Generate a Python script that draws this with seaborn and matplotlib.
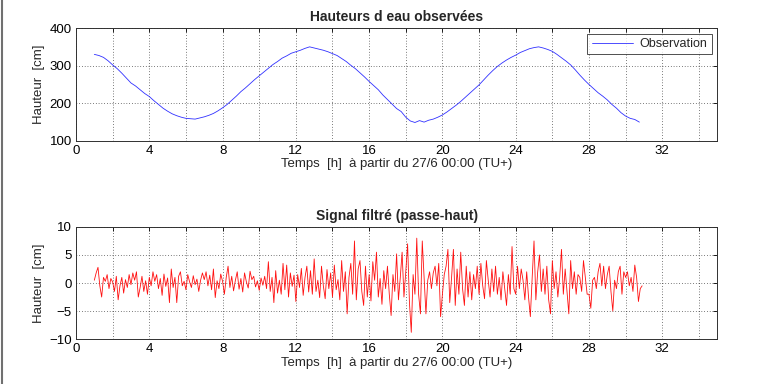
import numpy as np
import pandas as pd
import matplotlib
matplotlib.use("Agg")
import matplotlib.pyplot as plt
from matplotlib.lines import Line2D
import seaborn as sns

# ---------------- data ----------------
# Observed water height (cm), every 0.25 h from t = 1.00 h
obs_start = 1.0
obs_step = 0.25
obs_values = [
    330, 327, 322, 313, 302, 292, 280, 267, 254, 246, 236, 226,
    218, 207, 197, 187, 179, 172, 167, 163, 160, 159, 158, 161,
    164, 168, 173, 180, 188, 197, 208, 219, 231, 241, 252, 263,
    273, 283, 293, 303, 311, 320, 326, 333, 337, 341, 346, 350,
    347, 344, 341, 337, 332, 327, 319, 311, 301, 292, 281, 270,
    258, 247, 236, 222, 210, 198, 186, 178, 163, 153, 149, 154,
    150, 155, 158, 163, 169, 177, 186, 195, 205, 216, 227, 238,
    249, 262, 275, 287, 298, 307, 315, 322, 328, 335, 340, 345,
    348, 350, 347, 343, 338, 330, 321, 312, 302, 289, 275, 262,
    250, 239, 228, 219, 209, 197, 187, 175, 166, 160, 157, 150,
]

# High-pass filtered signal (cm), every 0.1 h from t = 1.0 h
hp_start = 1.0
hp_step = 0.1
hp_values = [
    0.5, 1.8, 2.8, -0.5, -2.5, 1.0, 0.3, 1.5, -1.0, 0.8,      # 1
    0.2, -1.5, 1.2, -3.0, -0.5, 1.0, -1.8, 0.6, -0.8, 1.5,    # 2
    -0.3, 1.8, 0.5, 2.0, -2.5, -0.8, 1.2, -1.5, 0.4, -2.0,    # 3
    1.0, -0.5, 2.0, 0.3, 1.5, -1.0, 0.8, -2.2, 1.6, -0.6,     # 4
    0.9, -3.5, 2.5, -0.8, 1.0, -3.5, 1.2, 2.0, -0.5, 0.3,     # 5
    -1.2, 1.5, 0.2, -0.8, 1.3, -0.3, 0.7, -1.5, 0.5, 1.8,     # 6
    0.6, 2.0, -0.5, 1.4, -1.2, 2.5, -2.6, 0.4, -1.0, 1.6,     # 7
    0.3, -2.0, 1.0, 3.0, -0.8, 1.2, -1.4, 0.5, 2.0, -1.1,     # 8
    0.8, -1.6, 1.8, 0.2, -0.9, 2.1, 0.6, 1.2, -0.7, 0.4,      # 9
    -1.3, 0.9, -0.4, 1.2, -1.0, 3.8, -1.5, 1.0, -3.5, 2.2,    # 10
    -1.8, 0.5, -2.0, 3.5, -1.2, 3.2, -2.5, 1.8, -0.6, 1.4,    # 11
    -3.3, 1.5, -0.8, 2.6, -2.2, 1.0, 3.0, -1.6, 2.2, -2.0,    # 12
    4.3, -1.5, 0.5, -2.6, 3.0, -0.5, -2.8, 2.4, -1.0, 1.8,    # 13
    -2.5, 3.2, -1.2, 0.6, -3.0, 4.0, -1.5, 2.0, -5.5, 1.0,    # 14
    3.5, -2.0, 7.5, -3.0, 2.5, 4.0, -1.5, -4.0, 3.0, -2.5,    # 15
    1.5, -3.2, 3.8, 0.5, 5.5, -2.5, 0.8, -3.8, 2.2, -1.0,     # 16
    3.0, -2.0, -5.8, 1.5, -1.5, 5.2, -3.0, 1.0, 5.5, -2.5,    # 17
    2.0, 7.0, -3.5, -8.8, 1.5, -2.0, 8.0, -2.0, -5.5, 7.5,    # 18
    1.0, -5.5, 0.5, 2.0, -1.0, 1.8, 3.0, -0.5, 3.5, -6.0,     # 19
    -2.0, 1.5, 3.0, 6.0, -3.5, 1.0, 6.0, -4.0, 2.5, -2.0,     # 20
    5.5, -1.0, -4.0, 3.0, -2.5, 2.0, -3.0, 1.5, -1.0, 3.0,    # 21
    -2.0, 3.5, -0.5, -2.8, 4.0, 0.5, -2.5, 2.5, -1.5, 3.0,    # 22
    -2.0, 1.0, -3.0, 2.0, -1.0, -4.0, 1.5, -2.0, 6.5, -1.0,   # 23
    -2.0, 3.0, -1.0, 2.5, 0.5, -3.0, 2.0, -2.5, -6.0, 1.0,    # 24
    7.5, -3.0, 2.0, 5.0, -1.5, 2.5, -2.0, 3.0, -3.0, -5.5,    # 25
    4.0, -1.0, 2.0, -2.5, 1.0, 6.0, -2.0, 2.5, -1.5, -5.5,    # 26
    4.0, -1.0, 2.0, -2.0, 1.5, 1.0, -1.5, 4.0, 1.0, -2.0,     # 27
    -2.0, -4.5, 0.5, 1.0, -1.0, 2.0, 3.5, -0.5, 3.0, -1.0,    # 28
    1.5, 3.0, -1.5, -5.0, 0.5, -1.0, 2.0, 3.0, -2.0, 2.0,     # 29
    1.0, 2.0, -0.5, 1.0, -1.5, 3.2, 1.0, -3.3, -1.0, -0.5,    # 30
]

x_ticks = [0, 2, 4, 6, 8, 10, 12, 14, 16, 18, 20, 22, 24, 26, 28, 30, 32, 34]
x_labels = ["0", "", "4", "", "8", "", "12", "", "16", "", "20", "", "24", "", "28", "", "32", ""]
top_yticks = [100, 200, 300, 400]
bot_yticks = [-10, -5, 0, 5, 10]

title_top = "Hauteurs d eau observées"
title_bot = "Signal filtré (passe-haut)"
xlabel = "Temps  [h]  à partir du 27/6 00:00 (TU+)"
ylabel = "Hauteur  [cm]"
legend_label = "Observation"

# ---------------- build frames ----------------
obs_df = pd.DataFrame({
    "t": obs_start + obs_step * np.arange(len(obs_values)),
    "h": obs_values,
})
hp_df = pd.DataFrame({
    "t": hp_start + hp_step * np.arange(len(hp_values)),
    "h": hp_values,
})

sns.set_theme(style="white")
plt.rcParams["font.family"] = ["Liberation Sans", "DejaVu Sans"]

fig = plt.figure(figsize=(7.67, 3.84), dpi=100, facecolor="white")
ax1 = fig.add_axes([0.0991, 0.633, 0.836, 0.294])
ax2 = fig.add_axes([0.0991, 0.117, 0.836, 0.292])

sns.lineplot(data=obs_df, x="t", y="h", ax=ax1, color="#3030ff",
             linewidth=0.6, label=legend_label, estimator=None, sort=False)
sns.lineplot(data=hp_df, x="t", y="h", ax=ax2, color="#ff1010",
             linewidth=0.6, estimator=None, sort=False, legend=False)

for ax, yt, title in [(ax1, top_yticks, title_top), (ax2, bot_yticks, title_bot)]:
    ax.set_xlim(0, 35)
    ax.set_ylim(yt[0], yt[-1])
    ax.set_xticks(x_ticks)
    ax.set_xticklabels(x_labels)
    ax.set_yticks(yt)
    ax.tick_params(direction="in", length=3, width=0.6, colors="black",
                   labelsize=9.5, top=True, right=True, pad=3)
    ax.grid(True, linestyle=(0, (1, 3)), color="black", linewidth=0.5)
    for s in ax.spines.values():
        s.set_color("#303030")
        s.set_linewidth(0.7)
        s.set_visible(True)
    ax.set_title(title, fontsize=10, fontweight="bold", pad=5)
    ax.set_xlabel(xlabel, fontsize=9.5, labelpad=1)
    ax.set_ylabel(ylabel, fontsize=9.5, labelpad=3)

leg = ax1.legend(loc="upper right", fontsize=9, frameon=True, fancybox=False,
                 borderaxespad=0.45, handlelength=3.3, borderpad=0.35,
                 handletextpad=0.5)
leg.get_frame().set_edgecolor("black")
leg.get_frame().set_linewidth(0.6)

# window border on the left
fig.add_artist(Line2D([0.002, 0.002], [0, 1], transform=fig.transFigure,
                      color="#707070", linewidth=1.5))

fig.savefig("out.png", dpi=100, facecolor="white")
